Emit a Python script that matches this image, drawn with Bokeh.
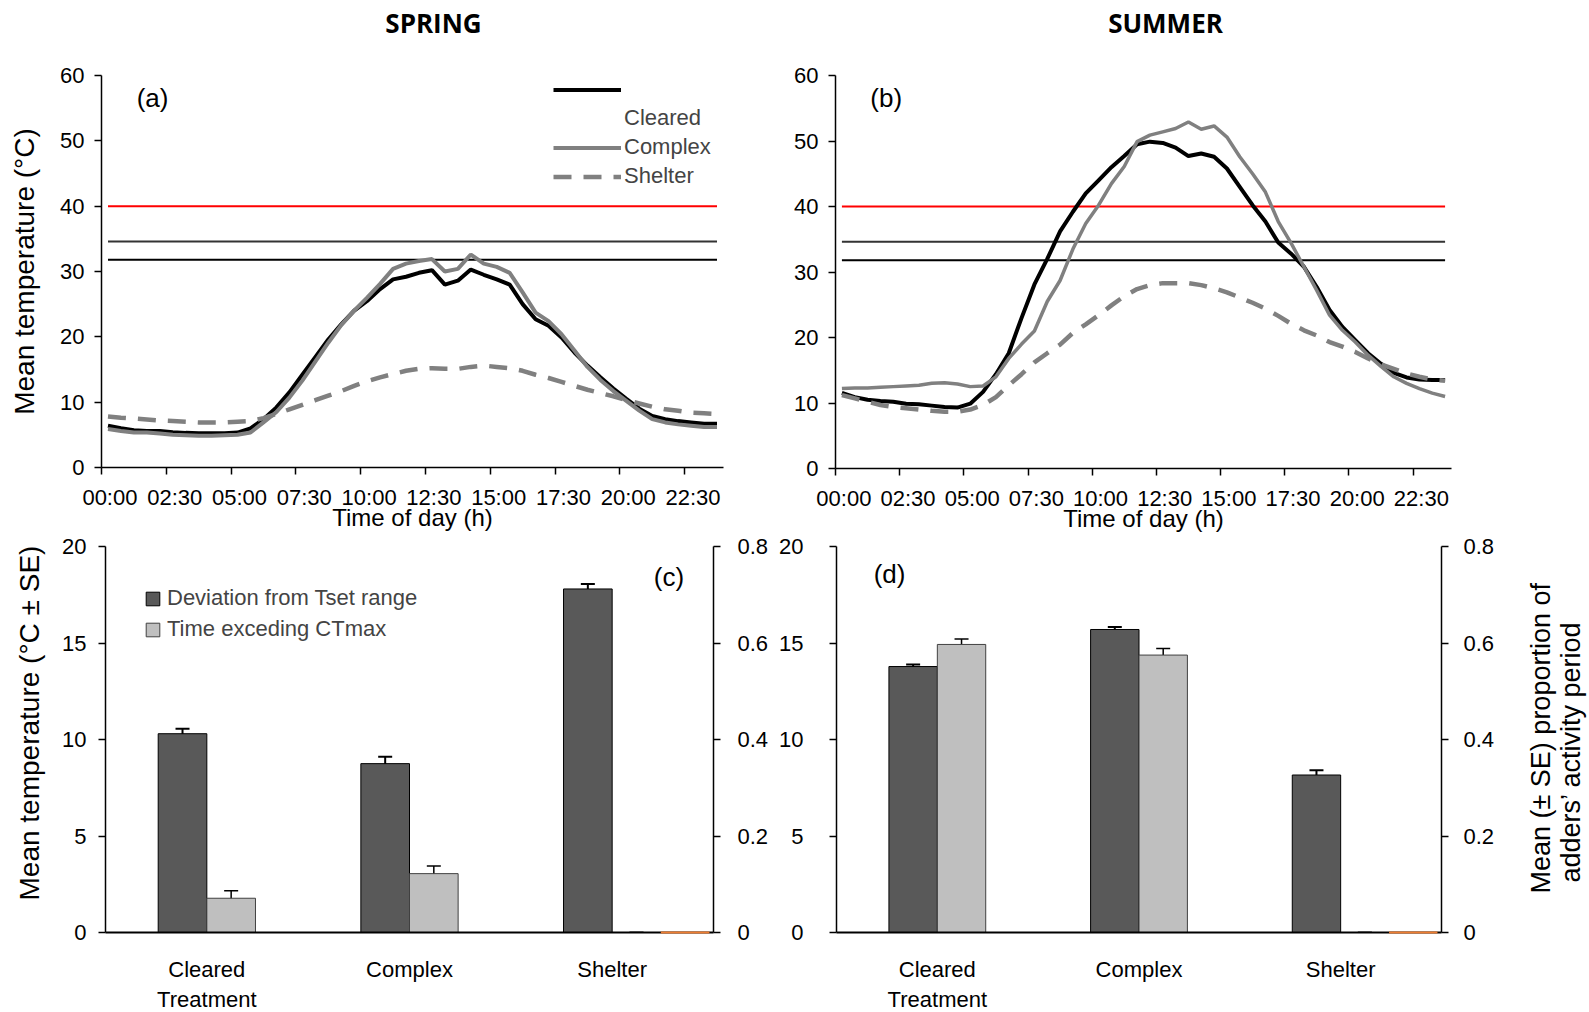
import numpy as np
from bokeh.plotting import figure
from bokeh.models import (Range1d, LinearAxis, FixedTicker, Label, Legend, LegendItem,
                          ColumnDataSource, Whisker, TeeHead)
from bokeh.layouts import column, row
from bokeh.embed import file_html
from bokeh.resources import INLINE

# ---------------- data ----------------
times = ["00:00", "00:30", "01:00", "01:30", "02:00", "02:30", "03:00", "03:30",
         "04:00", "04:30", "05:00", "05:30", "06:00", "06:30", "07:00", "07:30",
         "08:00", "08:30", "09:00", "09:30", "10:00", "10:30", "11:00", "11:30",
         "12:00", "12:30", "13:00", "13:30", "14:00", "14:30", "15:00", "15:30",
         "16:00", "16:30", "17:00", "17:30", "18:00", "18:30", "19:00", "19:30",
         "20:00", "20:30", "21:00", "21:30", "22:00", "22:30", "23:00", "23:30"]

spring_cleared = [6.4, 6.0, 5.7, 5.6, 5.6, 5.4, 5.3, 5.25, 5.25, 5.25, 5.35, 6.0,
                  7.4, 9.2, 11.5, 14.2, 16.9, 19.6, 21.9, 24.0, 25.5, 27.3, 28.8, 29.2,
                  29.8, 30.2, 28.0, 28.6, 30.3, 29.5, 28.8, 28.0, 25.0, 22.7, 21.7, 19.9,
                  17.6, 15.6, 13.8, 12.1, 10.5, 9.0, 7.9, 7.4, 7.1, 6.9, 6.7, 6.7]
spring_complex = [5.9, 5.6, 5.35, 5.35, 5.2, 5.0, 4.95, 4.85, 4.85, 4.95, 5.0, 5.35,
                  6.9, 8.5, 10.7, 13.3, 16.2, 19.1, 21.8, 24.0, 26.0, 28.1, 30.4, 31.2,
                  31.6, 31.9, 30.0, 30.4, 32.6, 31.2, 30.7, 29.8, 26.8, 23.7, 22.4, 20.4,
                  17.9, 15.4, 13.4, 11.7, 10.2, 8.7, 7.4, 6.9, 6.6, 6.4, 6.2, 6.2]
spring_shelter = [7.8, 7.6, 7.5, 7.35, 7.2, 7.1, 7.0, 6.9, 6.9, 6.9, 7.0, 7.1,
                  7.55, 8.2, 8.9, 9.6, 10.3, 11.0, 11.7, 12.5, 13.2, 13.8, 14.3, 14.8,
                  15.1, 15.2, 15.1, 15.1, 15.4, 15.6, 15.4, 15.2, 14.8, 14.2, 13.7, 13.1,
                  12.5, 11.9, 11.4, 10.9, 10.3, 9.8, 9.3, 8.9, 8.7, 8.4, 8.3, 8.2]

summer_cleared = [11.55, 10.9, 10.5, 10.3, 10.2, 9.9, 9.8, 9.6, 9.4, 9.3, 9.9, 11.7,
                  14.4, 17.6, 23.0, 28.1, 32.0, 36.2, 39.2, 42.0, 44.0, 46.0, 47.7, 49.5,
                  49.9, 49.7, 49.0, 47.7, 48.1, 47.6, 45.8, 43.0, 40.2, 37.7, 34.5, 32.8,
                  30.8, 27.7, 24.2, 21.6, 19.6, 17.6, 16.0, 14.6, 13.9, 13.6, 13.5, 13.5]
summer_complex = [12.2, 12.3, 12.3, 12.4, 12.5, 12.6, 12.7, 13.0, 13.1, 12.9, 12.5, 12.6,
                  14.0, 16.8, 19.0, 21.0, 25.5, 28.7, 33.5, 37.4, 40.2, 43.5, 46.1, 49.9,
                  50.9, 51.4, 51.9, 52.9, 51.8, 52.3, 50.6, 47.6, 45.0, 42.2, 37.7, 34.4,
                  30.8, 27.2, 23.4, 21.1, 19.3, 17.3, 15.6, 14.0, 13.0, 12.2, 11.5, 11.0]
summer_shelter = [11.2, 10.7, 10.2, 9.7, 9.4, 9.2, 9.0, 8.8, 8.65, 8.65, 9.0, 9.7,
                  10.9, 12.7, 14.4, 16.2, 17.6, 18.9, 20.7, 22.0, 23.4, 24.9, 26.3, 27.4,
                  28.0, 28.3, 28.3, 28.3, 28.0, 27.5, 26.9, 26.1, 25.3, 24.4, 23.3, 22.1,
                  21.1, 20.3, 19.3, 18.6, 17.8, 16.8, 15.9, 15.2, 14.5, 14.0, 13.6, 13.4]

CTMAX = 40.0
TSET_HIGH = 34.6
TSET_LOW = 31.8

treatments = ["Cleared", "Complex", "Shelter"]
spring_dev = [10.3, 8.75, 17.8]
spring_dev_se = [0.26, 0.35, 0.26]
spring_ct = [0.071, 0.122, 0.0]
spring_ct_se = [0.0156, 0.0156, 0.0]
summer_dev = [13.78, 15.70, 8.16]
summer_dev_se = [0.10, 0.13, 0.25]
summer_ct = [0.597, 0.575, 0.0]
summer_ct_se = [0.0114, 0.0138, 0.0]
other_series = [float("nan"), float("nan"), 0.0]

FONT = "Liberation Sans"
W = 1589


def base_fig(frame_w, frame_h, left, right, top, bottom, xr, yr):
    p = figure(frame_width=frame_w, frame_height=frame_h,
               min_border_left=left, min_border_right=right,
               min_border_top=top, min_border_bottom=bottom,
               x_range=xr, y_range=yr, output_backend="svg",
               toolbar_location=None)
    p.outline_line_color = None
    p.xgrid.visible = False
    p.ygrid.visible = False
    return p


def text_strip(frame_w, frame_h, top=0, bottom=0):
    s = figure(frame_width=frame_w, frame_height=frame_h, x_range=Range1d(0, frame_w),
               y_range=Range1d(0, frame_h), min_border_left=0, min_border_right=0,
               min_border_top=top, min_border_bottom=bottom, x_axis_location=None,
               y_axis_location=None, output_backend="svg", toolbar_location=None)
    s.outline_line_color = None
    s.xgrid.visible = False
    s.ygrid.visible = False
    return s


def style_axis(ax, standoff, tick_out=7, line_width=1.5, size="22px"):
    ax.major_label_text_font = FONT
    ax.major_label_text_font_size = size
    ax.major_label_text_color = "black"
    ax.axis_line_color = "black"
    ax.axis_line_width = line_width
    ax.major_tick_line_color = "black"
    ax.major_tick_line_width = 1.5
    ax.major_tick_in = 0
    ax.major_tick_out = tick_out
    ax.minor_tick_line_color = None
    ax.major_label_standoff = standoff


def axis_title(ax, text, standoff, size="28px"):
    ax.axis_label = text
    ax.axis_label_text_font = FONT
    ax.axis_label_text_font_size = size
    ax.axis_label_text_font_style = "normal"
    ax.axis_label_text_color = "black"
    ax.axis_label_standoff = standoff


def add_label(p, x, y, text, size, angle=0.0, font=FONT, bold=False, align="center"):
    p.add_layout(Label(x=x, y=y, text=text, text_font=font, text_font_size=size,
                       text_font_style="bold" if bold else "normal",
                       text_align=align, text_baseline="middle",
                       angle=angle, text_color="black"))


def line_panel(cleared, complex_, shelter, complex_width, left, right, top, bottom,
               frame_w, frame_h, with_legend):
    n = len(times)
    xs = [i + 0.5 for i in range(n)]
    p = base_fig(frame_w, frame_h, left, right, top, bottom, Range1d(0, n), Range1d(0, 60))
    src = ColumnDataSource(dict(x=xs, cleared=cleared, complex=complex_, shelter=shelter,
                                ctmax=[CTMAX] * n, thi=[TSET_HIGH] * n, tlo=[TSET_LOW] * n))
    p.line("x", "ctmax", source=src, line_color="#FF0000", line_width=2)
    p.line("x", "thi", source=src, line_color="#333333", line_width=2)
    p.line("x", "tlo", source=src, line_color="#000000", line_width=2)
    rc = p.line("x", "cleared", source=src, line_color="#000000", line_width=4)
    rx = p.line("x", "complex", source=src, line_color="#808080", line_width=complex_width)
    rs = p.line("x", "shelter", source=src, line_color="#808080", line_width=4.5,
                line_dash="18 12")
    # tick marks on the half-hour slots, labels drawn slightly to the right of them
    marks = list(range(0, n, 5))
    label_pos = [t + 0.65 for t in marks]
    p.xaxis.ticker = FixedTicker(ticks=label_pos, minor_ticks=marks)
    p.xaxis.major_label_overrides = {lp: times[t] for lp, t in zip(label_pos, marks)}
    p.yaxis.ticker = FixedTicker(ticks=[0, 10, 20, 30, 40, 50, 60])
    style_axis(p.xaxis[0], 10)
    xa = p.xaxis[0]
    xa.major_tick_line_color = None
    xa.minor_tick_line_color = "black"
    xa.minor_tick_line_width = 1.5
    xa.minor_tick_in = 0
    xa.minor_tick_out = 7
    axis_title(xa, "Time of day (h)", -9, size="24px")
    style_axis(p.yaxis[0], 10)
    if with_legend:
        blank = p.line("x", "cleared", source=src, line_alpha=0)
        leg = Legend(items=[LegendItem(label=" ", renderers=[rc]),
                            LegendItem(label="Cleared", renderers=[blank]),
                            LegendItem(label="Complex", renderers=[rx]),
                            LegendItem(label="Shelter", renderers=[rs])],
                     location="top_right", border_line_color=None,
                     background_fill_alpha=0, label_text_font=FONT,
                     label_text_font_size="22px", glyph_width=68, glyph_height=25,
                     label_height=25, label_width=97, label_standoff=3, spacing=3,
                     padding=2, margin=2)
        p.add_layout(leg)
    return p


def bar_panel(dev, dev_se, ct, ct_se, left, right, top, bottom, frame_w, frame_h,
              with_legend):
    k = len(treatments)
    p = base_fig(frame_w, frame_h, left, right, top, bottom, Range1d(0, k), Range1d(0, 20))
    p.extra_y_ranges = {"prop": Range1d(0, 0.8)}
    centers = [i + 0.5 for i in range(k)]
    w = 0.24
    dsrc = ColumnDataSource(dict(l=[c - w for c in centers], r=centers, top=dev,
                                 base=[c - w / 2 for c in centers],
                                 up=[v + e for v, e in zip(dev, dev_se)],
                                 lo=[v - e for v, e in zip(dev, dev_se)]))
    lsrc = ColumnDataSource(dict(l=centers, r=[c + w for c in centers], top=ct,
                                 base=[c + w / 2 for c in centers],
                                 up=[v + e for v, e in zip(ct, ct_se)],
                                 lo=[v - e for v, e in zip(ct, ct_se)]))
    osrc = ColumnDataSource(dict(l=[c + w for c in centers],
                                 r=[c + 2 * w for c in centers], top=other_series))
    rd = p.quad(left="l", right="r", bottom=0, top="top", source=dsrc,
                fill_color="#595959", line_color="#000000", line_width=1)
    rl = p.quad(left="l", right="r", bottom=0, top="top", source=lsrc,
                fill_color="#BFBFBF", line_color="#404040", line_width=1,
                y_range_name="prop")
    p.quad(left="l", right="r", bottom=0, top="top", source=osrc, fill_alpha=0,
           line_color="#ED7D31", line_width=2, y_range_name="prop", level="overlay")
    p.add_layout(Whisker(source=dsrc, base="base", upper="up", lower="lo",
                         line_color="black", line_width=2,
                         upper_head=TeeHead(size=14, line_width=2, line_color="black"),
                         lower_head=TeeHead(size=14, line_width=2, line_color="black")))
    p.add_layout(Whisker(source=lsrc, base="base", upper="up", lower="lo",
                         line_color="black", line_width=1.5, y_range_name="prop",
                         upper_head=TeeHead(size=14, line_width=1.5, line_color="black"),
                         lower_head=TeeHead(size=14, line_width=1.5, line_color="black")))
    tick_labels = [treatments[0] + "\nTreatment"] + treatments[1:]
    p.xaxis.ticker = FixedTicker(ticks=centers)
    p.xaxis.major_label_overrides = {c: t for c, t in zip(centers, tick_labels)}
    style_axis(p.xaxis[0], 24, tick_out=0, line_width=2)
    p.xaxis.major_tick_line_color = None
    p.yaxis.ticker = FixedTicker(ticks=[0, 5, 10, 15, 20])
    style_axis(p.yaxis[0], 12 if with_legend else 26)
    rax = LinearAxis(y_range_name="prop",
                     ticker=FixedTicker(ticks=[0, 0.2, 0.4, 0.6, 0.8]))
    rax.major_label_overrides = {0: "0", 0.2: "0.2", 0.4: "0.4", 0.6: "0.6", 0.8: "0.8"}
    style_axis(rax, 17 if with_legend else 15)
    p.add_layout(rax, "right")
    if with_legend:
        leg = Legend(items=[LegendItem(label="Deviation from Tset range", renderers=[rd]),
                            LegendItem(label="Time exceding CTmax", renderers=[rl])],
                     location="top_left", border_line_color=None,
                     background_fill_alpha=0, label_text_font=FONT,
                     label_text_font_size="22px", glyph_width=17, glyph_height=17,
                     label_height=25, label_standoff=6, spacing=5, padding=10,
                     margin=39)
        p.add_layout(leg)
    return p


# ---------------- panels ----------------
top_strip = text_strip(W, 45)
add_label(top_strip, 433, 23, "SPRING", "26px", font="Open Sans", bold=True)
add_label(top_strip, 1165, 23, "SUMMER", "26px", font="Open Sans", bold=True)

pa = line_panel(spring_cleared, spring_complex, spring_shelter, 4,
                left=101, right=7, top=30, bottom=67, frame_w=622, frame_h=392,
                with_legend=True)
pb = line_panel(summer_cleared, summer_complex, summer_shelter, 3.5,
                left=105, right=138, top=30, bottom=66, frame_w=616, frame_h=393,
                with_legend=False)

ROW2_TOP = 12

# strip on the left of (c) holding its axis title (frame aligned with (c))
pl = text_strip(50, 386, top=ROW2_TOP, bottom=80)
add_label(pl, 29, 32, "Mean temperature (°C ± SE)", "28px", angle=np.pi / 2,
          align="left")

pc = bar_panel(spring_dev, spring_dev_se, spring_ct, spring_ct_se,
               left=55, right=58, top=ROW2_TOP, bottom=80, frame_w=608, frame_h=386,
               with_legend=True)
pd = bar_panel(summer_dev, summer_dev_se, summer_ct, summer_ct_se,
               left=65, right=55, top=ROW2_TOP, bottom=80, frame_w=605, frame_h=386,
               with_legend=False)

# strip on the right of (d) holding its two-line right-hand axis title
pe = text_strip(93, 386, top=ROW2_TOP, bottom=80)
add_label(pe, 43, 39, "Mean (± SE) proportion of", "27px", angle=np.pi / 2,
          align="left")
add_label(pe, 73, 50, "adders\u2019 activity period", "27px", angle=np.pi / 2,
          align="left")

axis_title(pa.yaxis[0], "Mean temperature (°C)", 17)
add_label(pa, 3.94, 56.6, "(a)", "26px")
add_label(pb, 3.95, 56.5, "(b)", "26px")
add_label(pc, 2.78, 18.4, "(c)", "26px")
add_label(pd, 0.263, 18.6, "(d)", "26px")

layout = column(top_strip, row(pa, pb), row(pl, pc, pd, pe))

open("out.html", "w").write(file_html(layout, INLINE))
